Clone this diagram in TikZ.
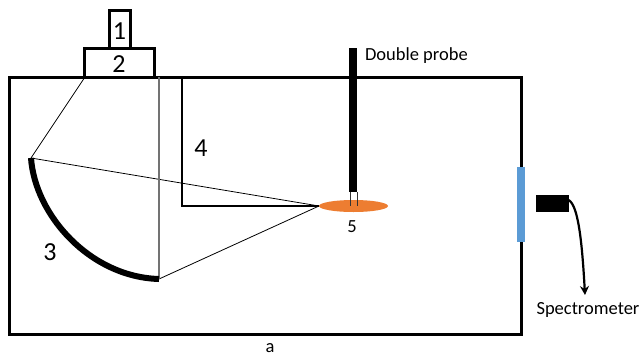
\documentclass[tikz,border=0pt]{standalone}
\usepackage{fontspec}
\setmainfont{Carlito}
\usetikzlibrary{arrows.meta,shapes.geometric}
\tikzset{
  every node/.style={outer sep=0pt},
  wall/.style={draw=black,line width=3pt},
  ray/.style={draw=black,line width=0.8pt},
  lab/.style={inner sep=0pt,font=\fontsize{18.5}{20}\selectfont},
  biglab/.style={inner sep=0pt,font=\fontsize{26}{28}\selectfont},
}
\begin{document}
\begin{tikzpicture}[x=1pt,y=-1pt]
\useasboundingbox (0,0) rectangle (644,356);
% coordinates
\coordinate (mirA) at (31,158);
\coordinate (mirB) at (159,279);
\coordinate (src2L) at (85,77);
\coordinate (plasma) at (319,206);
\coordinate (tubeTop) at (159,77);
\coordinate (probeTop) at (353,48);
\coordinate (probeEnd) at (353,192);
\coordinate (bentTop) at (182,77);
\coordinate (bentCorner) at (182,206);
\coordinate (specEnd) at (585,295);
% chamber
\node[wall,minimum width=511.5pt,minimum height=257pt,inner sep=0pt,anchor=north west] (chamber) at (9.5,77) {};
% plasma
\node[ellipse,fill={rgb,255:red,237;green,125;blue,49},minimum width=69pt,minimum height=12pt,inner sep=0pt] (plasmaCloud) at (353.5,206) {};
% rays
\draw[ray] (src2L) -- (mirA);
\draw[ray] (mirA) -- (plasma);
\draw[ray] (mirB) -- (plasma);
\draw[draw=gray!90!black,line width=1.1pt] (tubeTop) -- (mirB);
% element 4
\draw[draw=black,line width=2.4pt] (bentTop) -- (bentCorner) -- (plasma);
% mirror
\draw[draw=black,line width=6pt] (mirA) .. controls (35,215) and (90,277) .. (mirB);
% probe
\draw[draw=black,line width=8pt] (probeTop) -- (probeEnd);
\coordinate (tipL) at (350,192);
\coordinate (tipR) at (357,192);
\coordinate (tipLb) at (350,206);
\coordinate (tipRb) at (357,206);
\draw[draw=black!80,line width=1pt] (tipL) -- (tipLb);
\draw[draw=black!80,line width=1pt] (tipR) -- (tipRb);
% top blocks
\node[draw=black,fill=white,line width=2.6pt,minimum width=70pt,minimum height=29pt,inner sep=0pt,anchor=north west] (b2) at (84.5,48.5) {};
\node[draw=black,fill=white,line width=3pt,minimum width=21.5pt,minimum height=38.5pt,inner sep=0pt,anchor=north west] (b1) at (109,10) {};
\node[biglab] (n1) at (119.5,31) {1};
\node[biglab] (n2) at (119,64) {2};
\node[biglab] (n3) at (50,252) {3};
\node[biglab] (n4) at (201,148) {4};
\node[lab] (n5) at (352,227) {5};
\node[lab] (na) at (270,348) {a};
\node[lab,anchor=west] (dp) at (365,56) {Double probe};
\node[lab,anchor=west] (sp) at (536.5,310) {Spectrometer};
% window
\node[fill={rgb,255:red,91;green,155;blue,213},minimum width=8pt,minimum height=75pt,inner sep=0pt] (window) at (521,204) {};
% spectrometer
\node[fill=black,minimum width=33pt,minimum height=17pt,inner sep=0pt,anchor=north west] (det) at (535.5,194.5) {};
\draw[draw=black,line width=2.2pt,-{Stealth[length=9pt,width=9pt]}] ([yshift=3pt]det.east) .. controls (578,205) and (582,240) .. (specEnd);
\end{tikzpicture}
\end{document}
